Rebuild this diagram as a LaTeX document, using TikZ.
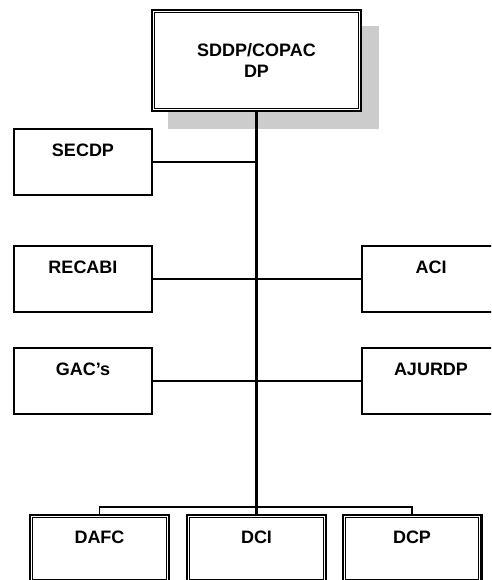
\documentclass[tikz,border=0pt]{standalone}
\usepackage{fontspec}
\setmainfont{Liberation Sans}
\usetikzlibrary{calc}
\begin{document}
\begin{tikzpicture}[x=1pt,y=-1pt,
  box/.style={draw=black, line width=2pt, rectangle, minimum width=138pt, minimum height=66pt, inner sep=0pt},
  dbox/.style={draw=black, line width=2.4pt, rectangle, inner sep=0pt},
  dinner/.style={draw=black, line width=1.2pt},
  txt/.style={font=\fontsize{18}{21}\selectfont\bfseries, inner sep=0pt, align=center, text height=13pt, text depth=0pt},
  link/.style={line width=1.6pt},
  trunk/.style={line width=3pt},
  bus/.style={line width=1.2pt}]
\useasboundingbox (0,0) rectangle (491,580);
\clip (0,0) rectangle (491,580);

% head office with its drop shadow
\fill[gray!40] (168,26) rectangle (379,129);
\node[dbox, fill=white, minimum width=208.6pt, minimum height=100.6pt] (top) at (256.5,60.5) {};
\node[font=\fontsize{18}{21}\selectfont\bfseries, inner sep=0pt, align=center] (top-t) at (top.center) {SDDP/COPAC\\DP};

% staff units
\node[box] (secdp) at (83,162) {};
\node[box] (recabi) at (83,279) {};
\node[box] (gacs) at (83,381) {};
\node[box] (aci) at (431,279) {};
\node[box] (ajurdp) at (431,381) {};
\node[txt] (secdp-t) at ($(secdp.north)+(0,22)$) {SECDP};
\node[txt] (recabi-t) at ($(recabi.north)+(0,22)$) {RECABI};
\node[txt] (gacs-t) at ($(gacs.north)+(0,22)$) {GAC’s};
\node[txt] (aci-t) at ($(aci.north)+(0,22)$) {ACI};
\node[txt] (ajurdp-t) at ($(ajurdp.north)+(0,22)$) {AJURDP};

% directorates
\node[dbox, minimum width=138.6pt, minimum height=66.6pt] (dafc) at (99.5,548.5) {};
\node[dbox, minimum width=138.6pt, minimum height=66.6pt] (dci) at (256.5,548.5) {};
\node[dbox, minimum width=138.6pt, minimum height=66.6pt] (dcp) at (412,548.5) {};
\node[txt] (dafc-t) at ($(dafc.north)+(0,22.5)$) {DAFC};
\node[txt] (dci-t) at ($(dci.north)+(0,22.5)$) {DCI};
\node[txt] (dcp-t) at ($(dcp.north)+(0,22.5)$) {DCP};

% inner line of the double borders
\foreach \n in {top,dafc,dci,dcp}
  \draw[dinner] ($(\n.north west)+(3.8,3.8)$) rectangle ($(\n.south east)+(-3.8,-3.8)$);

% connectors
\coordinate (busy) at (0,507);
\draw[bus] (dafc.north) -- (dafc.north |- busy) -- (dcp.north |- busy) -- (dcp.north);
\draw[link] (secdp.east) -- (secdp.east -| top.south);
\draw[link] (recabi.east) -- (aci.west);
\draw[link] (gacs.east) -- (ajurdp.west);
\draw[trunk] (top.south) -- (top.south |- dci.north);
\end{tikzpicture}
\end{document}
